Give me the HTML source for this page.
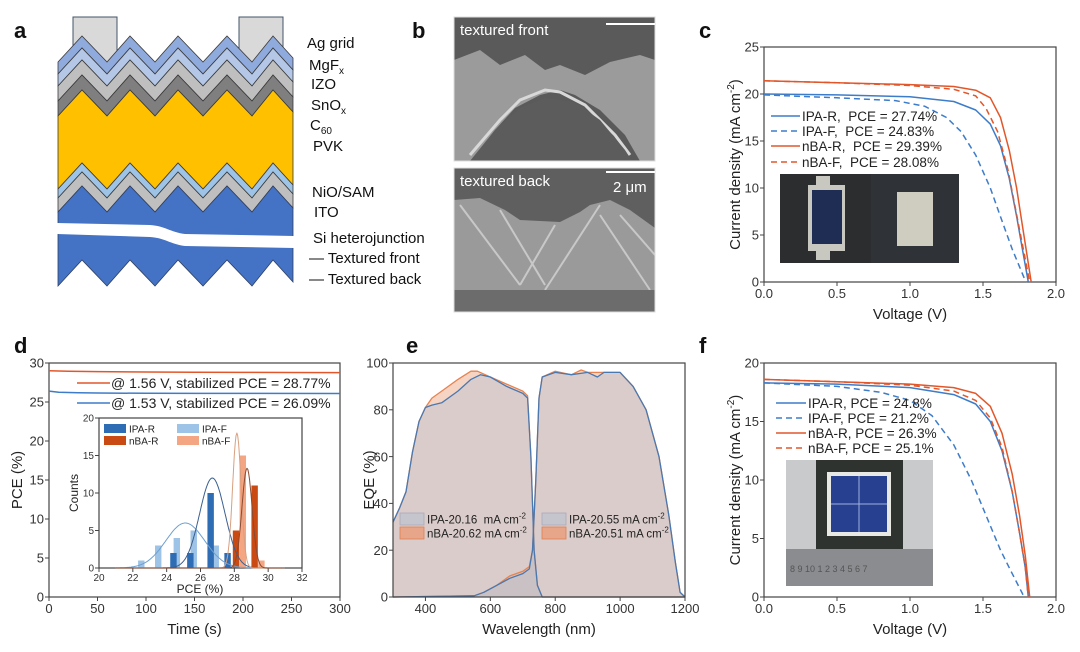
<!DOCTYPE html>
<html><head><meta charset="utf-8">
<style>
html,body{margin:0;padding:0;background:#fff;}
svg{display:block;font-family:"Liberation Sans",Arial,sans-serif;}
</style></head>
<body>
<svg id="fig" width="1080" height="652" viewBox="0 0 1080 652" xmlns="http://www.w3.org/2000/svg">
<g font-weight="bold" font-size="22" fill="#111">
<text x="14" y="38">a</text>
<text x="412" y="38">b</text>
<text x="699" y="38">c</text>
<text x="14" y="353">d</text>
<text x="406" y="353">e</text>
<text x="699" y="353">f</text>
</g>
<g id="pa">
<rect x="73" y="17" width="44" height="45" fill="#d9d9d9" stroke="#44546a" stroke-width="1"/>
<rect x="239" y="17" width="44" height="45" fill="#d9d9d9" stroke="#44546a" stroke-width="1"/>
</g>
<g font-size="15" fill="#111">
<text x="307" y="48">Ag grid</text>
<text x="309" y="70">MgF<tspan font-size="10" dy="4">x</tspan></text>
<text x="311" y="89">IZO</text>
<text x="311" y="110">SnO<tspan font-size="10" dy="4">x</tspan></text>
<text x="310" y="130">C<tspan font-size="10" dy="4">60</tspan></text>
<text x="313" y="151">PVK</text>
<text x="312" y="197">NiO/SAM</text>
<text x="314" y="217">ITO</text>
<text x="313" y="243">Si heterojunction</text>
<text x="309" y="263">— Textured front</text>
<text x="309" y="284">— Textured back</text>
</g>
<g>
<rect x="454" y="17" width="201" height="144" fill="#5a5a5a"/>
<path d="M454,60 L480,50 L500,65 L525,55 L545,70 L560,65 L585,75 L610,62 L640,55 L655,60 L655,161 L640,161 L625,135 L600,110 L575,95 L560,90 L540,95 L515,108 L495,130 L480,150 L470,161 L454,161 Z" fill="#9b9b9b"/>
<path d="M470,155 L500,120 L520,100 L545,90 L560,92 L585,105 L615,135 L630,155" fill="none" stroke="#d8d8d8" stroke-width="3"/>
<path d="M470,161 L495,130 L520,108 L545,98 L575,102 L600,120 L625,150 L632,161 Z" fill="#5c5c5c"/>
<rect x="454" y="17" width="201" height="144" fill="none" stroke="#ddd" stroke-width="1"/>
<text x="460" y="35" font-size="15" fill="#fff">textured front</text>
<line x1="606" y1="24" x2="655" y2="24" stroke="#fff" stroke-width="2"/>
</g>
<g>
<rect x="454" y="168" width="201" height="144" fill="#5f5f5f"/>
<path d="M454,200 L480,198 L505,210 L520,220 L560,222 L580,212 L590,205 L610,200 L630,210 L655,228 L655,290 L454,290 Z" fill="#9a9a9a"/>
<path d="M460,205 L520,285 M500,210 L545,285 M555,225 L520,285 M600,205 L545,290 M620,215 L655,255 M600,215 L650,290" stroke="#c8c8c8" stroke-width="2" fill="none"/>
<rect x="454" y="290" width="201" height="22" fill="#6c6c6c"/>
<rect x="454" y="168" width="201" height="144" fill="none" stroke="#ddd" stroke-width="1"/>
<text x="460" y="186" font-size="15" fill="#fff">textured back</text>
<line x1="606" y1="172" x2="655" y2="172" stroke="#fff" stroke-width="2"/>
<text x="613" y="192" font-size="15" fill="#fff">2 μm</text>
</g>
<g>
<rect x="780" y="174" width="91" height="89" fill="#2b2d2f"/>
<rect x="871" y="174" width="88" height="89" fill="#2f3236"/>
<rect x="808" y="185" width="37" height="66" fill="#c8c8c0"/>
<rect x="816" y="176" width="14" height="10" fill="#c8c8c0"/>
<rect x="816" y="250" width="14" height="10" fill="#c8c8c0"/>
<rect x="812" y="190" width="30" height="54" fill="#1f2d55"/>
<rect x="897" y="192" width="36" height="54" fill="#cfccc0"/>
</g>
<g>
<rect x="786" y="460" width="147" height="126" fill="#c9cacc"/>
<rect x="816" y="460" width="87" height="89" fill="#2f332f"/>
<rect x="827" y="472" width="64" height="64" fill="#e8e8e4"/>
<rect x="831" y="476" width="56" height="56" fill="#27408f"/>
<path d="M859,476 V532 M831,504 H887" stroke="#9fb0e0" stroke-width="1"/>
<rect x="786" y="549" width="147" height="37" fill="#8a8c90"/>
<text x="790" y="572" font-size="9" fill="#555">8 9 10 1 2 3 4 5 6 7</text>
</g>
<g id="charts"></g>
</svg>
<script>
// ===== Panel c data =====
const cV_ipaR=[0,0.5,1.0,1.3,1.45,1.55,1.62,1.68,1.73,1.77,1.81];
const cJ_ipaR=[20,19.9,19.7,19.2,18.3,16.8,14.5,11,7,3.5,0];
const cV_ipaF=[0,0.5,0.9,1.1,1.25,1.35,1.45,1.55,1.63,1.7,1.78,1.8];
const cJ_ipaF=[19.9,19.6,19.3,18.7,17.5,16,13.5,10,6.5,3.5,0.5,0];
const cV_nbaR=[0,0.5,1.0,1.3,1.45,1.55,1.62,1.68,1.73,1.77,1.8,1.83];
const cJ_nbaR=[21.4,21.2,21,20.8,20.4,19.6,17.5,14,10,6,3,0];
const cV_nbaF=[0,0.5,1.0,1.3,1.45,1.52,1.6,1.67,1.72,1.77,1.82];
const cJ_nbaF=[21.4,21.2,20.9,20.5,19.8,18.5,16,12,8,4,0];
const cLegend=["IPA-R,\u00a0 PCE = 27.74%","IPA-F,\u00a0 PCE = 24.83%","nBA-R,\u00a0 PCE = 29.39%","nBA-F,\u00a0 PCE = 28.08%"];
const cXTicks=[0,0.5,1.0,1.5,2.0];
const cYTicks=[0,5,10,15,20,25];
// ===== Panel f data =====
const fV_ipaR=[0,0.5,1.0,1.3,1.45,1.55,1.63,1.7,1.75,1.79,1.81];
const fJ_ipaR=[18.3,18.2,17.9,17.3,16.5,15,12.5,9,5.5,2.5,0];
const fV_ipaF=[0,0.5,0.8,1.0,1.15,1.3,1.42,1.52,1.62,1.7,1.77,1.78];
const fJ_ipaF=[18.3,18.0,17.5,16.8,15.5,13,10,7,4,2,0.3,0];
const fV_nbaR=[0,0.5,1.0,1.3,1.45,1.55,1.63,1.7,1.75,1.79,1.82];
const fJ_nbaR=[18.6,18.4,18.2,17.9,17.4,16.3,14,10.5,7,3.5,0];
const fV_nbaF=[0,0.5,1.0,1.3,1.45,1.55,1.63,1.7,1.75,1.79,1.81];
const fJ_nbaF=[18.6,18.4,18.1,17.6,16.8,15.3,12.8,9,5.5,2.5,0];
const fLegend=["IPA-R, PCE = 24.8%","IPA-F, PCE = 21.2%","nBA-R, PCE = 26.3%","nBA-F, PCE = 25.1%"];
const fYTicks=[0,5,10,15,20];
// ===== Panel d data =====
const dT_nba=[0,20,50,100,150,200,250,300];
const dP_nba=[29.0,28.95,28.9,28.85,28.82,28.8,28.78,28.77];
const dT_ipa=[0,10,30,50,100,150,200,300];
const dP_ipa=[26.4,26.25,26.18,26.15,26.12,26.1,26.1,26.09];
const dLegend=["@ 1.56 V, stabilized PCE = 28.77%","@ 1.53 V, stabilized PCE = 26.09%"];
const dXTicks=[0,50,100,150,200,250,300];
const dYTicks=[0,5,10,15,20,25,30];
const hIpaF_x=[22.5,23.5,24.6,25.6,26.9];
const hIpaF_c=[1,3,4,5,3];
const hIpaR_x=[24.4,25.4,26.6,27.6];
const hIpaR_c=[2,2,10,2];
const hNbaR_x=[28.1,29.2];
const hNbaR_c=[5,11];
const hNbaF_x=[28.5,29.6];
const hNbaF_c=[15,1];
const fitMean=[25.1,26.7,28.15,28.75];
const fitPeak=[6,12,18,13.3];
const fitSigma=[1.15,0.75,0.25,0.3];
const hXTicks=[20,22,24,26,28,30,32];
const hYTicks=[0,5,10,15,20];
// ===== Panel e data =====
const eW_ipaP=[300,320,340,360,380,400,420,450,500,540,570,600,650,700,715,725,735,745,760,1200];
const eQ_ipaP=[32,38,45,62,75,81,82,83,88,93,95,94,90,87,85,60,20,5,0,0];
const eW_nbaP=[300,320,340,360,380,400,420,450,500,540,560,600,650,700,715,725,735,745,760,1200];
const eQ_nbaP=[32,38,45,62,75,81,85,88,93,96.5,96.5,94,91,88,86,60,20,5,0,0];
const eW_ipaS=[300,550,580,620,660,700,720,730,740,750,760,800,850,900,930,950,1000,1040,1080,1120,1150,1170,1185,1200];
const eQ_ipaS=[0,0.5,2,5,8,10,12,20,50,85,94,96,95,96,94,96,96,90,80,60,35,15,2,0];
const eW_nbaS=[300,550,580,620,660,700,720,730,740,750,760,800,850,880,900,950,1000,1040,1080,1120,1150,1170,1185,1200];
const eQ_nbaS=[0,0.5,2,5,9,11,13,20,50,85,94,96.5,95,97,96,96,96,90,80,60,35,15,2,0];
const eLegendL=["IPA-20.16\u00a0 mA cm","nBA-20.62 mA cm"];
const eLegendR=["IPA-20.55 mA cm","nBA-20.51 mA cm"];
const eXTicks=[400,600,800,1000,1200];
const eYTicks=[0,20,40,60,80,100];

const NS="http://www.w3.org/2000/svg";
const root=document.getElementById('charts');
function mk(tag,attrs,parent){const e=document.createElementNS(NS,tag);for(const k in attrs)e.setAttribute(k,attrs[k]);(parent||root).appendChild(e);return e;}
function scale(d0,d1,r0,r1){return v=>r0+(v-d0)/(d1-d0)*(r1-r0);}

const pa=document.getElementById('pa');
const zx=[58,82,107,130,155,178,203,227,252,273,293];
const zd=[26,0,26,0,26,0,26,0,26,0,22];
function zig(y0,rev){const p=zx.map((x,i)=>[x,y0+zd[i]]);return rev?p.reverse():p;}
const layerTops=[36,48,60,75,90,163,172];
const layerColors=["#8faadc","#b4c7e7","#bfbfbf","#7f7f7f","#ffc000","#9dc3e6","#bfbfbf"];
const layerNames=["mgfx-layer","izo-layer","snox-layer","c60-layer","pvk-layer","nio-sam-layer","ito-layer"];
const bottoms=[48,60,75,90,163,172,186];
for(let i=0;i<layerTops.length;i++){
  const pts=zig(layerTops[i]).concat(zig(bottoms[i],true));
  const el=mk('polygon',{points:pts.map(p=>p.join(',')).join(' '),fill:layerColors[i],stroke:'#3a3a3a','stroke-width':0.8},pa);
  
  
}
{
  const top=zig(186);
  const bot=zx.map((x,i)=>[x,260+zd[i]]).reverse();
  const el=mk('polygon',{points:top.concat(bot).map(p=>p.join(',')).join(' '),fill:'#4472c4',stroke:'#2f3f5f','stroke-width':0.8},pa);
  
  
  const w=mk('path',{d:'M57,223 L150,225 C165,226 170,232 185,234 L294,236 L294,248 L185,246 C170,244 165,238 150,237 L57,234 Z',fill:'#fff'},pa);
  
  
}

function axes(o){
  const g=mk('g',{});
  
  
  const fr=mk('rect',{x:o.x0,y:o.y0,width:o.x1-o.x0,height:o.y1-o.y0,fill:'none',stroke:'#444','stroke-width':1.2},g);
  
  
  const fs=o.fs||13;
  o.xt.forEach(v=>{const x=o.sx(v);
    const t=mk('line',{x1:x,y1:o.y1,x2:x,y2:o.y1+4,stroke:'#444'},g);
    
    
    const l=mk('text',{x:x,y:o.y1+fs+3,'font-size':fs,'text-anchor':'middle',fill:'#333'},g);
    l.textContent=o.xf?o.xf(v):v;
    
    });
  o.yt.forEach(v=>{const y=o.sy(v);
    const t=mk('line',{x1:o.x0-4,y1:y,x2:o.x0,y2:y,stroke:'#444'},g);
    
    
    const l=mk('text',{x:o.x0-5,y:y+fs*0.36,'font-size':fs,'text-anchor':'end',fill:'#333'},g);
    l.textContent=v;
    
    });
  if(o.xtitle){const t=mk('text',{x:(o.x0+o.x1)/2,y:o.y1+37,'font-size':o.tfs||15,'text-anchor':'middle',fill:'#222'},g);
    t.textContent=o.xtitle;
    
    }
  if(o.ytitle){const cx=o.ytx,cy=(o.y0+o.y1)/2;
    const t=mk('text',{x:cx,y:cy,'font-size':o.tfs||15,'text-anchor':'middle',fill:'#222',transform:`rotate(-90 ${cx} ${cy})`},g);
    t.innerHTML=o.ytitle;
    
    }
  return g;
}
function line(xs,ys,sx,sy,col,dash,name,w){
  const d=xs.map((x,i)=>(i?'L':'M')+sx(x).toFixed(1)+','+sy(ys[i]).toFixed(1)).join(' ');
  const p=mk('path',{d:d,fill:'none',stroke:col,'stroke-width':w||1.5,'stroke-dasharray':dash||'none','stroke-linejoin':'round'});
  
  
  return p;
}
const BLUE='#3d7cc9',ORANGE='#e2572a';

{
  const sx=scale(0,2,764,1056),sy=scale(0,25,282,47);
  axes({name:'jv-chart-c',x0:764,x1:1056,y0:47,y1:282,sx,sy,xt:cXTicks,yt:cYTicks,xf:v=>v.toFixed(1),xtitle:'Voltage (V)',ytx:740,ytitle:'Current density (mA cm<tspan font-size="10" dy="-6">-2</tspan><tspan dy="6">)</tspan>'});
  line(cV_ipaR,cJ_ipaR,sx,sy,BLUE,null,'c-ipa-r-curve');
  line(cV_ipaF,cJ_ipaF,sx,sy,BLUE,'6,4','c-ipa-f-curve');
  line(cV_nbaR,cJ_nbaR,sx,sy,ORANGE,null,'c-nba-r-curve');
  line(cV_nbaF,cJ_nbaF,sx,sy,ORANGE,'6,4','c-nba-f-curve');
  const ly=[116,131,146,162],lc=[BLUE,BLUE,ORANGE,ORANGE],ld=[null,'6,4',null,'6,4'];
  cLegend.forEach((s,i)=>{
    const l=mk('line',{x1:771,y1:ly[i],x2:800,y2:ly[i],stroke:lc[i],'stroke-width':1.5,'stroke-dasharray':ld[i]||'none'});
    
    
    const t=mk('text',{x:802,y:ly[i]+5,'font-size':13.5,fill:'#222'});
    t.textContent=s;
    
    });
}
{
  const sx=scale(0,2,764,1056),sy=scale(0,20,597,363);
  axes({name:'jv-chart-f',x0:764,x1:1056,y0:363,y1:597,sx,sy,xt:cXTicks,yt:fYTicks,xf:v=>v.toFixed(1),xtitle:'Voltage (V)',ytx:740,ytitle:'Current density (mA cm<tspan font-size="10" dy="-6">-2</tspan><tspan dy="6">)</tspan>'});
  line(fV_ipaR,fJ_ipaR,sx,sy,BLUE,null,'f-ipa-r-curve');
  line(fV_ipaF,fJ_ipaF,sx,sy,BLUE,'6,4','f-ipa-f-curve');
  line(fV_nbaR,fJ_nbaR,sx,sy,ORANGE,null,'f-nba-r-curve');
  line(fV_nbaF,fJ_nbaF,sx,sy,ORANGE,'6,4','f-nba-f-curve');
  const ly=[403,418,433,448],lc=[BLUE,BLUE,ORANGE,ORANGE],ld=[null,'6,4',null,'6,4'];
  fLegend.forEach((s,i)=>{
    const l=mk('line',{x1:776,y1:ly[i],x2:806,y2:ly[i],stroke:lc[i],'stroke-width':1.5,'stroke-dasharray':ld[i]||'none'});
    
    
    const t=mk('text',{x:808,y:ly[i]+5,'font-size':13.5,fill:'#222'});
    t.textContent=s;
    
    });
}
{
  const sx=scale(0,300,49,340),sy=scale(0,30,597,363);
  axes({name:'stability-chart-d',x0:49,x1:340,y0:363,y1:597,sx,sy,xt:dXTicks,yt:dYTicks,xtitle:'Time (s)',ytx:22,ytitle:'PCE (%)'});
  line(dT_nba,dP_nba,sx,sy,ORANGE,null,'d-nba-mpp-trace');
  line(dT_ipa,dP_ipa,sx,sy,BLUE,null,'d-ipa-mpp-trace');
  const ly=[383,403],lc=[ORANGE,BLUE];
  dLegend.forEach((s,i)=>{
    const l=mk('line',{x1:77,y1:ly[i],x2:110,y2:ly[i],stroke:lc[i],'stroke-width':1.5});
    
    
    const t=mk('text',{x:111,y:ly[i]+5,'font-size':14,fill:'#222'});
    t.textContent=s;
    
    });
  const hx=scale(20,32,99,302),hy=scale(0,20,568,418);
  const bg=mk('rect',{x:99,y:418,width:203,height:150,fill:'#fff'});
  
  
  axes({name:'histogram-inset',x0:99,x1:302,y0:418,y1:568,sx:hx,sy:hy,xt:hXTicks,yt:hYTicks,fs:10,tfs:12,xtitle:'',ytx:78,ytitle:'Counts'});
  const xt=mk('text',{x:200,y:593,'font-size':12,'text-anchor':'middle',fill:'#222'});
  xt.textContent='PCE (%)';
  
  
  const bw=0.38;
  function bars(xs,cs,col,name){xs.forEach((x,i)=>{
    const r=mk('rect',{x:hx(x-bw/2),y:hy(cs[i]),width:hx(bw)-hx(0),height:hy(0)-hy(cs[i]),fill:col});
    
    });}
  bars(hIpaF_x,hIpaF_c,'#9dc3e6','bar-ipa-f');
  bars(hIpaR_x,hIpaR_c,'#2e6db4','bar-ipa-r');
  bars(hNbaR_x,hNbaR_c,'#c94a12','bar-nba-r');
  bars(hNbaF_x,hNbaF_c,'#f4a582','bar-nba-f');
  const fc=['#6f9fcf','#3a5f8f','#d8a080','#8a4a30'];
  const fn=['fit-ipa-f','fit-ipa-r','fit-nba-f','fit-nba-r'];
  fitMean.forEach((m,k)=>{
    const xs=[],ys=[];
    for(let x=21;x<=31;x+=0.05){xs.push(x);ys.push(fitPeak[k]*Math.exp(-0.5*Math.pow((x-m)/fitSigma[k],2)));}
    line(xs,ys,hx,hy,fc[k],null,fn[k],1);
  });
  const lg=[['IPA-R','#2e6db4',104,424],['IPA-F','#9dc3e6',177,424],['nBA-R','#c94a12',104,436],['nBA-F','#f4a582',177,436]];
  lg.forEach(e=>{
    const r=mk('rect',{x:e[2],y:e[3],width:22,height:9,fill:e[1]});
    
    
    const t=mk('text',{x:e[2]+25,y:e[3]+8.5,'font-size':10,fill:'#222'});
    t.textContent=e[0];
    
    });
}
{
  const sx=scale(300,1200,393,685),sy=scale(0,100,597,363);
  function area(xs,ys,fill,name){
    const d='M'+sx(xs[0])+','+sy(0)+' '+xs.map((x,i)=>'L'+sx(x).toFixed(1)+','+sy(ys[i]).toFixed(1)).join(' ')+' L'+sx(xs[xs.length-1])+','+sy(0)+' Z';
    const p=mk('path',{d:d,fill:fill,stroke:'none'});
    
    }
  area(eW_nbaP,eQ_nbaP,'rgba(236,160,125,0.45)','e-nba-perovskite-fill');
  area(eW_nbaS,eQ_nbaS,'rgba(236,160,125,0.45)','e-nba-silicon-fill');
  area(eW_ipaP,eQ_ipaP,'rgba(185,195,210,0.45)','e-ipa-perovskite-fill');
  area(eW_ipaS,eQ_ipaS,'rgba(185,195,210,0.45)','e-ipa-silicon-fill');
  line(eW_nbaP,eQ_nbaP,sx,sy,'#e8834f',null,'e-nba-perovskite-line',1.3);
  line(eW_nbaS,eQ_nbaS,sx,sy,'#e8834f',null,'e-nba-silicon-line',1.3);
  line(eW_ipaP,eQ_ipaP,sx,sy,'#4a78b0',null,'e-ipa-perovskite-line',1.3);
  line(eW_ipaS,eQ_ipaS,sx,sy,'#4a78b0',null,'e-ipa-silicon-line',1.3);
  axes({name:'eqe-chart-e',x0:393,x1:685,y0:363,y1:597,sx,sy,xt:eXTicks,yt:eYTicks,xtitle:'Wavelength (nm)',ytx:374,ytitle:'EQE (%)'});
  function leg(labels,x){labels.forEach((s,i)=>{
    const y=513+i*14;
    const r=mk('rect',{x:x,y:y,width:24,height:12,fill:i?'rgba(236,150,110,0.7)':'rgba(190,195,205,0.8)',stroke:i?'#e08050':'#aab','stroke-width':0.8});
    
    
    const t=mk('text',{x:x+27,y:y+10.5,'font-size':11.5,fill:'#222'});
    t.innerHTML=s+'<tspan font-size="8" dy="-5">-2</tspan>';
    
    });}
  leg(eLegendL,400);
  leg(eLegendR,542);
}
</script>
</body></html>
